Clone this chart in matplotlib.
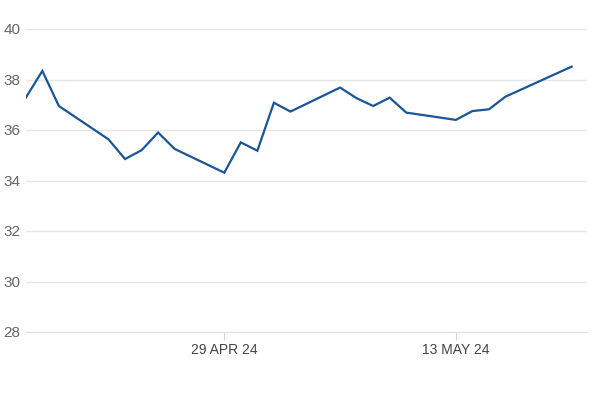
import matplotlib
matplotlib.use("Agg")
import matplotlib.pyplot as plt
import pandas as pd

# daily closes
dates = [
    "2024-04-17", "2024-04-18", "2024-04-19", "2024-04-22", "2024-04-23",
    "2024-04-24", "2024-04-25", "2024-04-26", "2024-04-29", "2024-04-30",
    "2024-05-01", "2024-05-02", "2024-05-03", "2024-05-06", "2024-05-07",
    "2024-05-08", "2024-05-09", "2024-05-10", "2024-05-13", "2024-05-14",
    "2024-05-15", "2024-05-16", "2024-05-20",
]
values = [
    37.28, 38.34, 36.95, 35.63, 34.85,
    35.20, 35.90, 35.25, 34.31, 35.51,
    35.18, 37.08, 36.73, 37.68, 37.26,
    36.95, 37.28, 36.69, 36.40, 36.75,
    36.82, 37.32, 38.51,
]
yticks = [28, 30, 32, 34, 36, 38, 40]
xtick_dates = ["2024-04-29", "2024-05-13"]
xtick_labels = ["29 APR 24", "13 MAY 24"]

x = pd.to_datetime(dates)

plt.rcParams["font.family"] = ["Liberation Sans", "DejaVu Sans"]

fig = plt.figure(figsize=(6, 4), dpi=100)
ax = fig.add_axes([0.043, 0.17, 0.935, 0.7575])

ax.plot(x, values, color="#1a5596", linewidth=1.6, solid_joinstyle="miter")

ax.set_ylim(28, 40)
ax.set_xlim(pd.Timestamp("2024-04-17"), pd.Timestamp("2024-05-20 22:00"))
ax.set_yticks(yticks)
ax.set_yticklabels([str(v) for v in yticks])
ax.set_xticks(pd.to_datetime(xtick_dates))
ax.set_xticklabels(xtick_labels)

ax.grid(axis="y", color="#e6e6e6", linewidth=1)
ax.set_axisbelow(True)
for s in ax.spines.values():
    s.set_visible(False)
# baseline at 28 is a touch darker than the other gridlines
ax.spines["bottom"].set_visible(True)
ax.spines["bottom"].set_color("#dde3ea")

ax.tick_params(axis="y", length=0, pad=4, labelsize=11, labelcolor="#666666")
ax.tick_params(axis="x", length=6, width=0.8, color="#c8d4e0", pad=2,
               labelsize=10, labelcolor="#444444")

fig.savefig("out.png", dpi=100)
